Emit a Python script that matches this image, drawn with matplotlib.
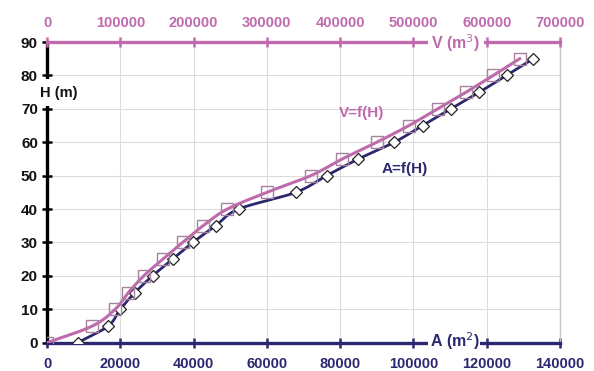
import numpy as np
import matplotlib
matplotlib.use("Agg")
import matplotlib.pyplot as plt
from matplotlib.patches import Rectangle

H = [0, 5, 10, 15, 20, 25, 30, 35, 40, 45, 50, 55, 60, 65, 70, 75, 80, 85]
A = [8400, 16700, 20000, 24000, 28800, 34300, 39800, 46000, 52300, 67900,
     76300, 85000, 94800, 102500, 110200, 118000, 125400, 132700]
V = [0, 62000, 93000, 111000, 132000, 158000, 185000, 213000, 246000, 300000,
     360000, 403000, 450000, 494000, 533000, 572000, 609000, 645000]

a_ticks = [0, 20000, 40000, 60000, 80000, 100000, 120000, 140000]
v_ticks = [0, 100000, 200000, 300000, 400000, 500000, 600000, 700000]
h_ticks = [0, 10, 20, 30, 40, 50, 60, 70, 80, 90]

NAVY = "#2b2870"
PINK = "#bf6aad"
SQ = "#a8809f"
FONT = "Liberation Sans"
W, HGT = 594, 371


def smooth(x, y, n=20):
    # Catmull-Rom spline through the data points (display smoothing only)
    x = np.asarray(x, float); y = np.asarray(y, float)
    px = np.concatenate([[2 * x[0] - x[1]], x, [2 * x[-1] - x[-2]]])
    py = np.concatenate([[2 * y[0] - y[1]], y, [2 * y[-1] - y[-2]]])
    ox, oy = [], []
    t = np.linspace(0, 1, n, endpoint=False)
    for i in range(1, len(px) - 2):
        for arr, out in ((px, ox), (py, oy)):
            p0, p1, p2, p3 = arr[i - 1], arr[i], arr[i + 1], arr[i + 2]
            out.extend(0.5 * ((2 * p1) + (-p0 + p2) * t +
                              (2 * p0 - 5 * p1 + 4 * p2 - p3) * t ** 2 +
                              (-p0 + 3 * p1 - 3 * p2 + p3) * t ** 3))
    ox.append(x[-1]); oy.append(y[-1])
    return np.array(ox), np.array(oy)


fig = plt.figure(figsize=(5.94, 3.71), dpi=100)
ax = fig.add_axes([47 / W, 1 - 342.7 / HGT, 513 / W, 300.7 / HGT])
ax2 = ax.twiny()

ax.set_xlim(0, 140000)
ax.set_ylim(0, 90)
ax2.set_xlim(0, 700000)

ax.set_xticks(a_ticks)
ax.set_yticks(h_ticks)
ax.grid(True, color="#dcdcdc", lw=0.8, zorder=0)
ax.set_axisbelow(True)

# curves
sx, sy = smooth(V, H)
ax2.plot(sx, sy, color=PINK, lw=2.2, zorder=3)
ax2.plot(V, H, ls="none", marker="s", ms=8, mfc="none", mec=SQ, mew=1.0, zorder=4)
sx, sy = smooth(A, H)
ax.plot(sx, sy, color=NAVY, lw=2.0, zorder=3)
ax.plot(A, H, ls="none", marker="D", ms=6, mfc="white", mec="#222222", mew=0.9, zorder=5)

# spines
for s in ["top", "right", "bottom", "left"]:
    ax2.spines[s].set_visible(False)
ax.spines["bottom"].set_color(NAVY); ax.spines["bottom"].set_linewidth(2.4)
ax.spines["left"].set_color("black"); ax.spines["left"].set_linewidth(2.4)
ax.spines["right"].set_color("#c8c8c8"); ax.spines["right"].set_linewidth(1.0)
ax.spines["top"].set_visible(False)
ax2.spines["top"].set_visible(True)
ax2.spines["top"].set_color(PINK); ax2.spines["top"].set_linewidth(2.4)

ax.tick_params(axis="x", direction="inout", length=7, width=1.8, color=NAVY,
               labelcolor=NAVY, pad=7)
ax.tick_params(axis="y", direction="inout", length=7, width=1.8, color="black",
               labelcolor="#111111", pad=3)
ax2.set_xticks(v_ticks)
ax2.tick_params(axis="x", direction="inout", length=7, width=1.8, color=PINK,
                labelcolor=PINK, pad=5)

ax.set_xticklabels([str(t) for t in a_ticks])
ax.set_yticklabels([str(t) for t in h_ticks])
ax2.set_xticklabels([str(t) for t in v_ticks])
for lab in ax.get_xticklabels() + ax2.get_xticklabels():
    lab.set_fontfamily(FONT); lab.set_fontweight("bold"); lab.set_fontsize(10.5)
for lab in ax.get_yticklabels():
    lab.set_fontfamily(FONT); lab.set_fontweight("bold"); lab.set_fontsize(11)

# white patches cutting the axis lines behind axis titles
for (x0, y0, x1, y1) in [(41, 79, 54, 106), (428, 36, 484, 49), (428, 336, 480, 349)]:
    fig.patches.append(Rectangle((x0 / W, 1 - y1 / HGT), (x1 - x0) / W, (y1 - y0) / HGT,
                                 transform=fig.transFigure, facecolor="white",
                                 edgecolor="none", zorder=8))

fig.text(59 / W, 1 - 93 / HGT, "H (m)", fontfamily=FONT, fontsize=10.5,
         fontweight="bold", color="#111111", ha="center", va="center", zorder=10)
fig.text(455 / W, 1 - 43 / HGT, "V (m$^3$)", fontfamily=FONT, fontsize=11.5,
         fontweight="bold", color=PINK, ha="center", va="center", zorder=10)
fig.text(455 / W, 1 - 341 / HGT, "A (m$^2$)", fontfamily=FONT, fontsize=11.5,
         fontweight="bold", color=NAVY, ha="center", va="center", zorder=10)

fig.text(362 / W, 1 - 113 / HGT, "V=f(H)", fontfamily=FONT, fontsize=11,
         fontweight="bold", color=PINK, ha="center", va="center")
fig.text(405 / W, 1 - 169 / HGT, "A=f(H)", fontfamily=FONT, fontsize=11,
         fontweight="bold", color=NAVY, ha="center", va="center")

fig.savefig("out.png", dpi=100)
